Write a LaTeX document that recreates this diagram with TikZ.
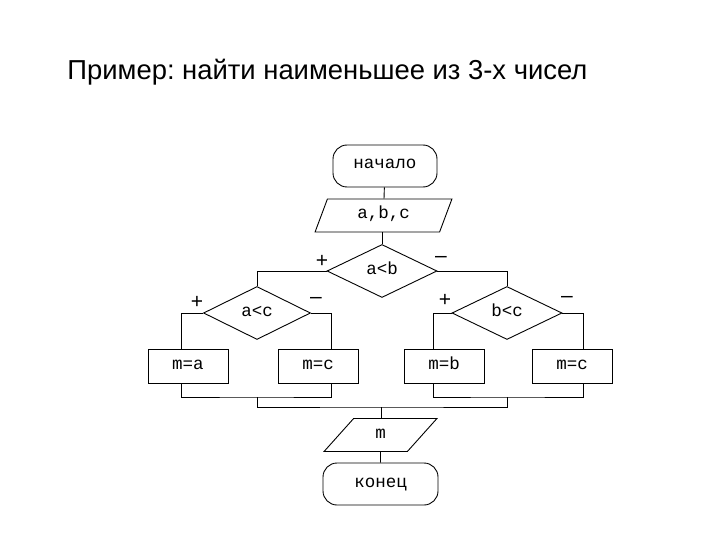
\documentclass[tikz,border=0pt]{standalone}
\usepackage{fontspec}
\setmainfont{Liberation Sans}
\newfontfamily\blockfont{Liberation Mono}
\usetikzlibrary{shapes}
\usetikzlibrary{shapes.geometric}

\tikzset{
  blocktext/.style={font=\blockfont\fontsize{17.5}{17.5}\selectfont, text height=8pt, text depth=2pt},
  termbox/.style={draw, rounded corners=14pt, minimum width=#1, minimum height=42pt, inner sep=0pt, blocktext},
  iobox/.style={draw, trapezium, trapezium left angle=60, trapezium right angle=120, trapezium stretches=true, minimum width=#1, minimum height=33pt, inner sep=0pt, blocktext},
  actbox/.style={draw, rectangle, minimum width=80pt, minimum height=34pt, inner sep=0pt, blocktext},
  testbox/.style={draw, diamond, minimum width=#1, minimum height=53pt, inner sep=0pt, blocktext},
  sign/.style={font=\fontsize{21}{21}\selectfont, inner sep=0pt}
}

\begin{document}
\frenchspacing
\begin{tikzpicture}[x=1pt,y=-1pt,line width=0.9pt]
\useasboundingbox (0,0) rectangle (720,540);
\node[anchor=base west, font=\fontsize{27.4}{27.4}\selectfont, inner sep=0pt] (title) at (67,80) {Пример: найти наименьшее из 3-х чисел};
% blocks
\node[termbox=104pt] (start) at (385,166) {начало};
\node[iobox=137pt] (input) at (383.5,215.5) {a,b,c};
\node[testbox=110pt] (ab) at (382,271) {a<b};
\node[testbox=107pt] (ac) at (257,313) {a<c};
\node[testbox=110pt] (bc) at (507,313) {b<c};
\node[actbox] (ma) at (188,366) {m=a};
\node[actbox] (mc1) at (318,366) {m=c};
\node[actbox] (mb) at (444,366) {m=b};
\node[actbox] (mc2) at (572,366) {m=c};
\node[iobox=113pt] (output) at (380.5,435) {m};
\node[termbox=115pt] (end) at (380.5,484) {конец};
% signs
\node[sign] (p1) at (322,261) {+};
\node[sign] (n1) at (441,259) {--};
\node[sign] (p2) at (197,302) {+};
\node[sign] (n2) at (316,300) {--};
\node[sign] (p3) at (445,300) {+};
\node[sign] (n3) at (567,299) {--};
% joins
\coordinate (jl) at (257,397);
\coordinate (jr) at (507,397);
\coordinate (jm) at (381,407);
% connectors
\draw (start) -- (input);
\draw (input.south -| ab.north) -- (ab.north);
\draw (ab.west) -| (ac.north);
\draw (ab.east) -| (bc.north);
\draw (ac.west) -| ([xshift=-7pt]ma.north);
\draw (ac.east) -| ([xshift=13pt]mc1.north);
\draw (bc.west) -| ([xshift=-11pt]mb.north);
\draw (bc.east) -| ([xshift=11pt]mc2.north);
\draw ([xshift=-7pt]ma.south) |- (jl) -| ([xshift=13pt]mc1.south);
\draw ([xshift=-11pt]mb.south) |- (jr) -| ([xshift=11pt]mc2.south);
\draw (jl) |- (jm) -| (jr);
\draw (jm) -- (output.north -| jm);
\draw (output) -- (end);
\end{tikzpicture}
\end{document}
